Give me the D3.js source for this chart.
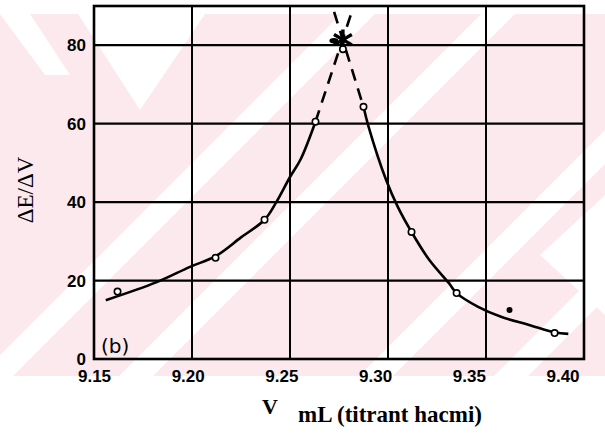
<!DOCTYPE html>
<html>
<head>
<meta charset="utf-8">
<script src="https://cdn.jsdelivr.net/npm/d3@7"></script>
<style>
  body { margin: 0; background: #fff; }
  svg { display: block; }
</style>
</head>
<body>
<div id="chart"></div>
<script>
// measured points (open circles)
var volumes = [9.162, 9.212, 9.237, 9.263, 9.277, 9.2875, 9.312, 9.335, 9.385];
var slopes  = [17.2, 25.8, 35.5, 60.5, 79.0, 64.3, 32.4, 16.8, 6.6];

// stray filled dot
var strayV = [9.362];
var strayY = [12.5];

// hand-drawn curve, left branch
var leftFitV = [9.156, 9.182, 9.199, 9.212, 9.225, 9.237, 9.243, 9.250, 9.2555, 9.263];
var leftFitY = [15.0, 19.6, 23.5, 26.2, 31.0, 35.5, 40.0, 46.4, 51.0, 60.5];

// hand-drawn curve, right branch
var rightFitV = [9.2875, 9.290, 9.299, 9.305, 9.312, 9.321, 9.331, 9.335, 9.346, 9.358, 9.372, 9.385, 9.392];
var rightFitY = [64.3, 59.4, 45.7, 38.8, 32.4, 25.3, 19.4, 16.8, 13.3, 10.7, 8.7, 6.8, 6.4];

// dashed extrapolations crossing at the end point
var dashLeftV = [9.263, 9.2815];
var dashLeftY = [60.5, 88.5];
var dashRightV = [9.2725, 9.2875];
var dashRightY = [88.5, 64.3];
var endV = 9.277, endY = 81.4;

var xTicks = [9.15, 9.20, 9.25, 9.30, 9.35, 9.40];
var yTicks = [0, 20, 40, 60, 80];
var xGrid = [9.20, 9.25, 9.30, 9.35];
var yGrid = [20, 40, 60, 80];

var width = 605, height = 440;

var svg = d3.select("#chart")
  .append("svg")
  .attr("width", width)
  .attr("height", height);

// pink watermark behind the scan
var wm = svg.append("g").attr("class", "watermark");
wm.append("rect").attr("x", 0).attr("y", 14).attr("width", width).attr("height", 362).attr("fill", "#fce9ed");
var wmClip = svg.append("clipPath").attr("id", "wmclip");
wmClip.append("rect").attr("x", 0).attr("y", 14).attr("width", width).attr("height", 362);
var stripes = wm.append("g").attr("clip-path", "url(#wmclip)").attr("fill", "#fff");
[355, 495, 735, 870].forEach(function (c) {
  stripes.append("polygon")
    .attr("points", [[c - 400, 400], [c - 400 + 34, 400], [c + 34, 0], [c, 0]].join(" "));
});
stripes.append("polygon").attr("points", "78,14 205,14 140,110");
stripes.append("polygon").attr("points", "0,14 30,14 70,75 45,75");
stripes.append("polygon").attr("points", "605,195 540,255 605,315");

var x = d3.scaleLinear().domain([9.15, 9.40]).range([94, 584]);
var y = d3.scaleLinear().domain([0, 90]).range([359, 6]);

// grid
svg.append("g")
  .selectAll("line.h")
  .data(yGrid)
  .enter()
  .append("line")
  .attr("x1", x(9.15)).attr("x2", x(9.40))
  .attr("y1", function (d) { return y(d); })
  .attr("y2", function (d) { return y(d); })
  .attr("stroke", "#000")
  .attr("stroke-width", 2.2);

svg.append("g")
  .selectAll("line.v")
  .data(xGrid)
  .enter()
  .append("line")
  .attr("x1", function (d) { return x(d); })
  .attr("x2", function (d) { return x(d); })
  .attr("y1", y(90)).attr("y2", y(0))
  .attr("stroke", "#000")
  .attr("stroke-width", 2);

// frame
svg.append("rect")
  .attr("x", x(9.15))
  .attr("y", y(90))
  .attr("width", x(9.40) - x(9.15))
  .attr("height", y(0) - y(90))
  .attr("fill", "none")
  .attr("stroke", "#000")
  .attr("stroke-width", 2.6);

// axes (labels only)
var xAxis = d3.axisBottom(x).tickValues(xTicks).tickSize(0).tickPadding(11).tickFormat(d3.format(".2f"));
var yAxis = d3.axisLeft(y).tickValues(yTicks).tickSize(0).tickPadding(8).tickFormat(d3.format("d"));

var gx = svg.append("g").attr("transform", "translate(0," + y(0) + ")").call(xAxis);
gx.select(".domain").remove();
gx.selectAll("text")
  .attr("dx", function (d, i) { return -i * 4.3; })
  .style("font-family", "'Liberation Sans', Arial, sans-serif")
  .style("font-weight", "bold")
  .style("font-size", "17px")
  .attr("fill", "#000");

var gy = svg.append("g").attr("transform", "translate(" + x(9.15) + ",0)").call(yAxis);
gy.select(".domain").remove();
gy.selectAll("text")
  .style("font-family", "'Liberation Sans', Arial, sans-serif")
  .style("font-weight", "bold")
  .style("font-size", "17px")
  .attr("fill", "#000");

// curves
var line = d3.line()
  .x(function (d) { return x(d[0]); })
  .y(function (d) { return y(d[1]); })
  .curve(d3.curveCatmullRom.alpha(0.5));

svg.append("path")
  .datum(d3.zip(leftFitV, leftFitY))
  .attr("d", line)
  .attr("fill", "none")
  .attr("stroke", "#000")
  .attr("stroke-width", 2.6);

svg.append("path")
  .datum(d3.zip(rightFitV, rightFitY))
  .attr("d", line)
  .attr("fill", "none")
  .attr("stroke", "#000")
  .attr("stroke-width", 2.6);

var straight = d3.line()
  .x(function (d) { return x(d[0]); })
  .y(function (d) { return y(d[1]); });

[[dashLeftV, dashLeftY], [dashRightV, dashRightY]].forEach(function (p) {
  svg.append("path")
    .datum(d3.zip(p[0], p[1]))
    .attr("d", straight)
    .attr("fill", "none")
    .attr("stroke", "#000")
    .attr("stroke-width", 2.6)
    .attr("stroke-dasharray", "12,8");
});

// end point star
svg.append("path")
  .attr("d", d3.symbol().type(d3.symbolAsterisk).size(300))
  .attr("transform", "translate(" + x(endV) + "," + y(endY) + ")")
  .attr("fill", "none")
  .attr("stroke", "#000")
  .attr("stroke-width", 3.4);
svg.append("ellipse")
  .attr("cx", x(endV) - 9)
  .attr("cy", y(endY) + 1)
  .attr("rx", 4.5)
  .attr("ry", 2.8)
  .attr("fill", "#000");

// data circles
svg.append("g")
  .selectAll("circle")
  .data(d3.zip(volumes, slopes))
  .enter()
  .append("circle")
  .attr("cx", function (d) { return x(d[0]); })
  .attr("cy", function (d) { return y(d[1]); })
  .attr("r", 3.2)
  .attr("fill", "#fff")
  .attr("stroke", "#000")
  .attr("stroke-width", 1.6);

svg.append("g")
  .selectAll("circle")
  .data(d3.zip(strayV, strayY))
  .enter()
  .append("circle")
  .attr("cx", function (d) { return x(d[0]); })
  .attr("cy", function (d) { return y(d[1]); })
  .attr("r", 3)
  .attr("fill", "#000");

// labels
svg.append("text")
  .attr("transform", "translate(33," + 190 + ") rotate(-90)")
  .attr("text-anchor", "middle")
  .style("font-family", "'Liberation Serif', 'Times New Roman', serif")
  .style("font-size", "23px")
  .text("ΔE/ΔV");

svg.append("text")
  .attr("x", 262)
  .attr("y", 414)
  .style("font-family", "'Liberation Serif', 'Times New Roman', serif")
  .style("font-size", "22px")
  .style("font-weight", "bold")
  .text("V");

svg.append("text")
  .attr("x", 298)
  .attr("y", 422)
  .style("font-family", "'Liberation Serif', 'Times New Roman', serif")
  .style("font-size", "23px")
  .style("font-weight", "bold")
  .text("mL (titrant hacmi)");

svg.append("text")
  .attr("x", 101)
  .attr("y", 353)
  .style("font-family", "'DejaVu Sans', sans-serif")
  .style("font-size", "20px")
  .text("(b)");
</script>
</body>
</html>
